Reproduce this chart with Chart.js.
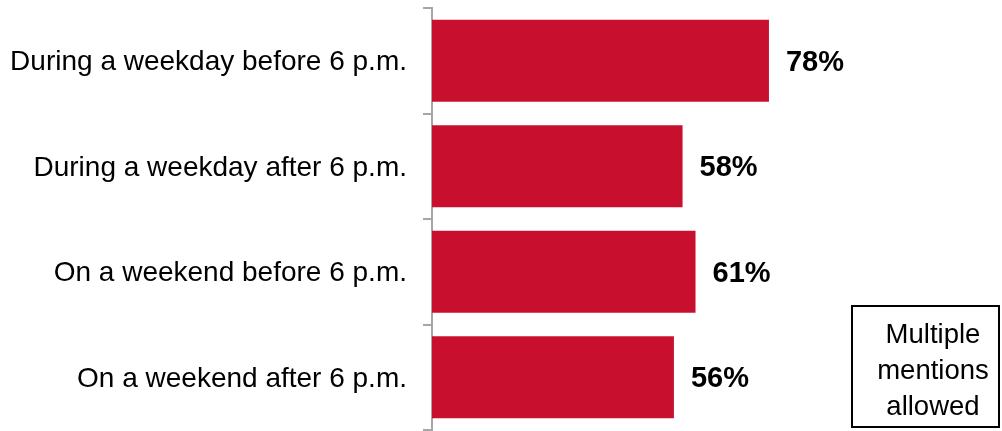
<!DOCTYPE html>
<html>
<head>
<meta charset="utf-8">
<script src="https://cdn.jsdelivr.net/npm/chart.js@4/dist/chart.umd.min.js"></script>
<style>
  html, body { margin: 0; padding: 0; background: #fff; }
  #wrap { position: relative; width: 1002px; height: 431px; }
  #note {
    position: absolute; left: 851px; top: 305px; width: 149px; height: 123px;
    box-sizing: border-box; border: 2px solid #000; padding: 8.5px 0 0 15px;
    font-family: Arial, "Liberation Sans", sans-serif; font-size: 27.5px;
    line-height: 36px; text-align: center; color: #000;
  }
</style>
</head>
<body>
<div id="wrap">
  <canvas id="c" width="1002" height="431"></canvas>
  <div id="note">Multiple<br>mentions<br>allowed</div>
</div>
<script>
const categories = [
  "During a weekday before 6 p.m.",
  "During a weekday after 6 p.m.",
  "On a weekend before 6 p.m.",
  "On a weekend after 6 p.m."
];
const values = [78, 58, 61, 56];
const valueLabels = ["78%", "58%", "61%", "56%"];

const barLabels = {
  id: "barLabels",
  afterDatasetsDraw(chart) {
    const ctx = chart.ctx;
    const meta = chart.getDatasetMeta(0);
    ctx.save();
    ctx.font = "bold 29px Arial, 'Liberation Sans', sans-serif";
    ctx.fillStyle = "#000";
    ctx.textAlign = "left";
    ctx.textBaseline = "middle";
    meta.data.forEach((el, i) => {
      ctx.fillText(valueLabels[i], el.x + 17, el.y + 2);
    });
    ctx.restore();
  }
};

new Chart(document.getElementById("c"), {
  type: "bar",
  data: {
    labels: categories,
    datasets: [{
      data: values,
      backgroundColor: "#C8102E",
      borderWidth: 0,
      categoryPercentage: 1,
      barPercentage: 0.775
    }]
  },
  options: {
    indexAxis: "y",
    responsive: false,
    animation: false,
    events: [],
    layout: { padding: { top: 8, bottom: 1, right: 138, left: 0 } },
    plugins: { legend: { display: false }, tooltip: { enabled: false } },
    scales: {
      x: { display: false, min: 0, max: 100 },
      y: {
        afterFit(scale) {
          scale.width = 432;
          scale.paddingTop = 0;
          scale.paddingBottom = 0;
        },
        grid: {
          offset: true,
          drawOnChartArea: false,
          drawTicks: true,
          tickLength: 9,
          color: "#a6a6a6",
          lineWidth: 2
        },
        border: { display: true, color: "#a6a6a6", width: 2 },
        ticks: {
          padding: 16,
          labelOffset: 2,
          color: "#000",
          font: { family: "Arial, 'Liberation Sans', sans-serif", size: 28 }
        }
      }
    }
  },
  plugins: [barLabels]
});
</script>
</body>
</html>
